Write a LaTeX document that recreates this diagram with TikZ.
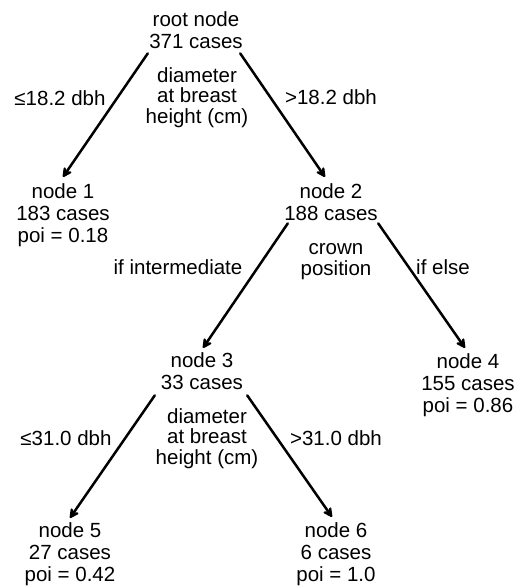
\documentclass[tikz,border=0pt]{standalone}
\usepackage{fontspec}
\setmainfont{Liberation Sans}
\usetikzlibrary{arrows.meta}
\begin{document}
\begin{tikzpicture}[x=1pt,y=-1pt,
  treenode/.style={anchor=base, align=center, inner sep=3pt,
    font=\fontsize{20.5}{22}\selectfont},
  split/.style={anchor=base, align=center, inner sep=0pt,
    font=\fontsize{20.5}{20.5}\selectfont},
  branch/.style={line width=2.5pt, line cap=round,
    -{Stealth[length=12pt,width=12pt,inset=4pt,round]}}]
\useasboundingbox (0,0) rectangle (518,587);

% tree nodes (position = baseline of last line)
\node[treenode] (root) at (196,48.5) {root node\\371 cases};
\node[treenode] (n1) at (63,242) {node 1\\183 cases\\poi = 0.18};
\node[treenode] (n2) at (331,220) {node 2\\188 cases};
\node[treenode] (n3) at (202,389) {node 3\\33 cases};
\node[treenode] (n4) at (468,412) {node 4\\155 cases\\poi = 0.86};
\node[treenode] (n5) at (70,581) {node 5\\27 cases\\poi = 0.42};
\node[treenode] (n6) at (336,581) {node 6\\6 cases\\poi = 1.0};

% split variables and branch conditions
\node[split] (v1) at (197,123) {diameter\\at breast\\height (cm)};
\node[split] (c1l) at (60,105) {≤18.2 dbh};
\node[split] (c1r) at (331,104) {>18.2 dbh};
\node[split] (v2) at (336,275) {crown\\position};
\node[split] (c2l) at (178,274) {if intermediate};
\node[split] (c2r) at (443,274) {if else};
\node[split] (v3) at (207,464) {diameter\\at breast\\height (cm)};
\node[split] (c3l) at (66,445) {≤31.0 dbh};
\node[split] (c3r) at (336,445) {>31.0 dbh};

% branches
\draw[branch] ([xshift=1.7pt,yshift=-1.5pt]root.south west) -- ([yshift=3pt]n1.north);
\draw[branch] ([xshift=-5.7pt,yshift=-1.5pt]root.south east) -- ([xshift=-6pt,yshift=3pt]n2.north);
\draw[branch] ([xshift=6.7pt]n2.south west) -- ([xshift=1pt,yshift=1pt]n3.north);
\draw[branch] ([xshift=-2.7pt]n2.south east) -- ([xshift=-3pt,yshift=2pt]n4.north);
\draw[branch] ([xshift=-3pt,yshift=-3pt]n3.south west) -- ([yshift=1pt]n5.north);
\draw[branch] ([xshift=1pt,yshift=-3pt]n3.south east) -- ([xshift=-4pt,yshift=2pt]n6.north);
\end{tikzpicture}
\end{document}
